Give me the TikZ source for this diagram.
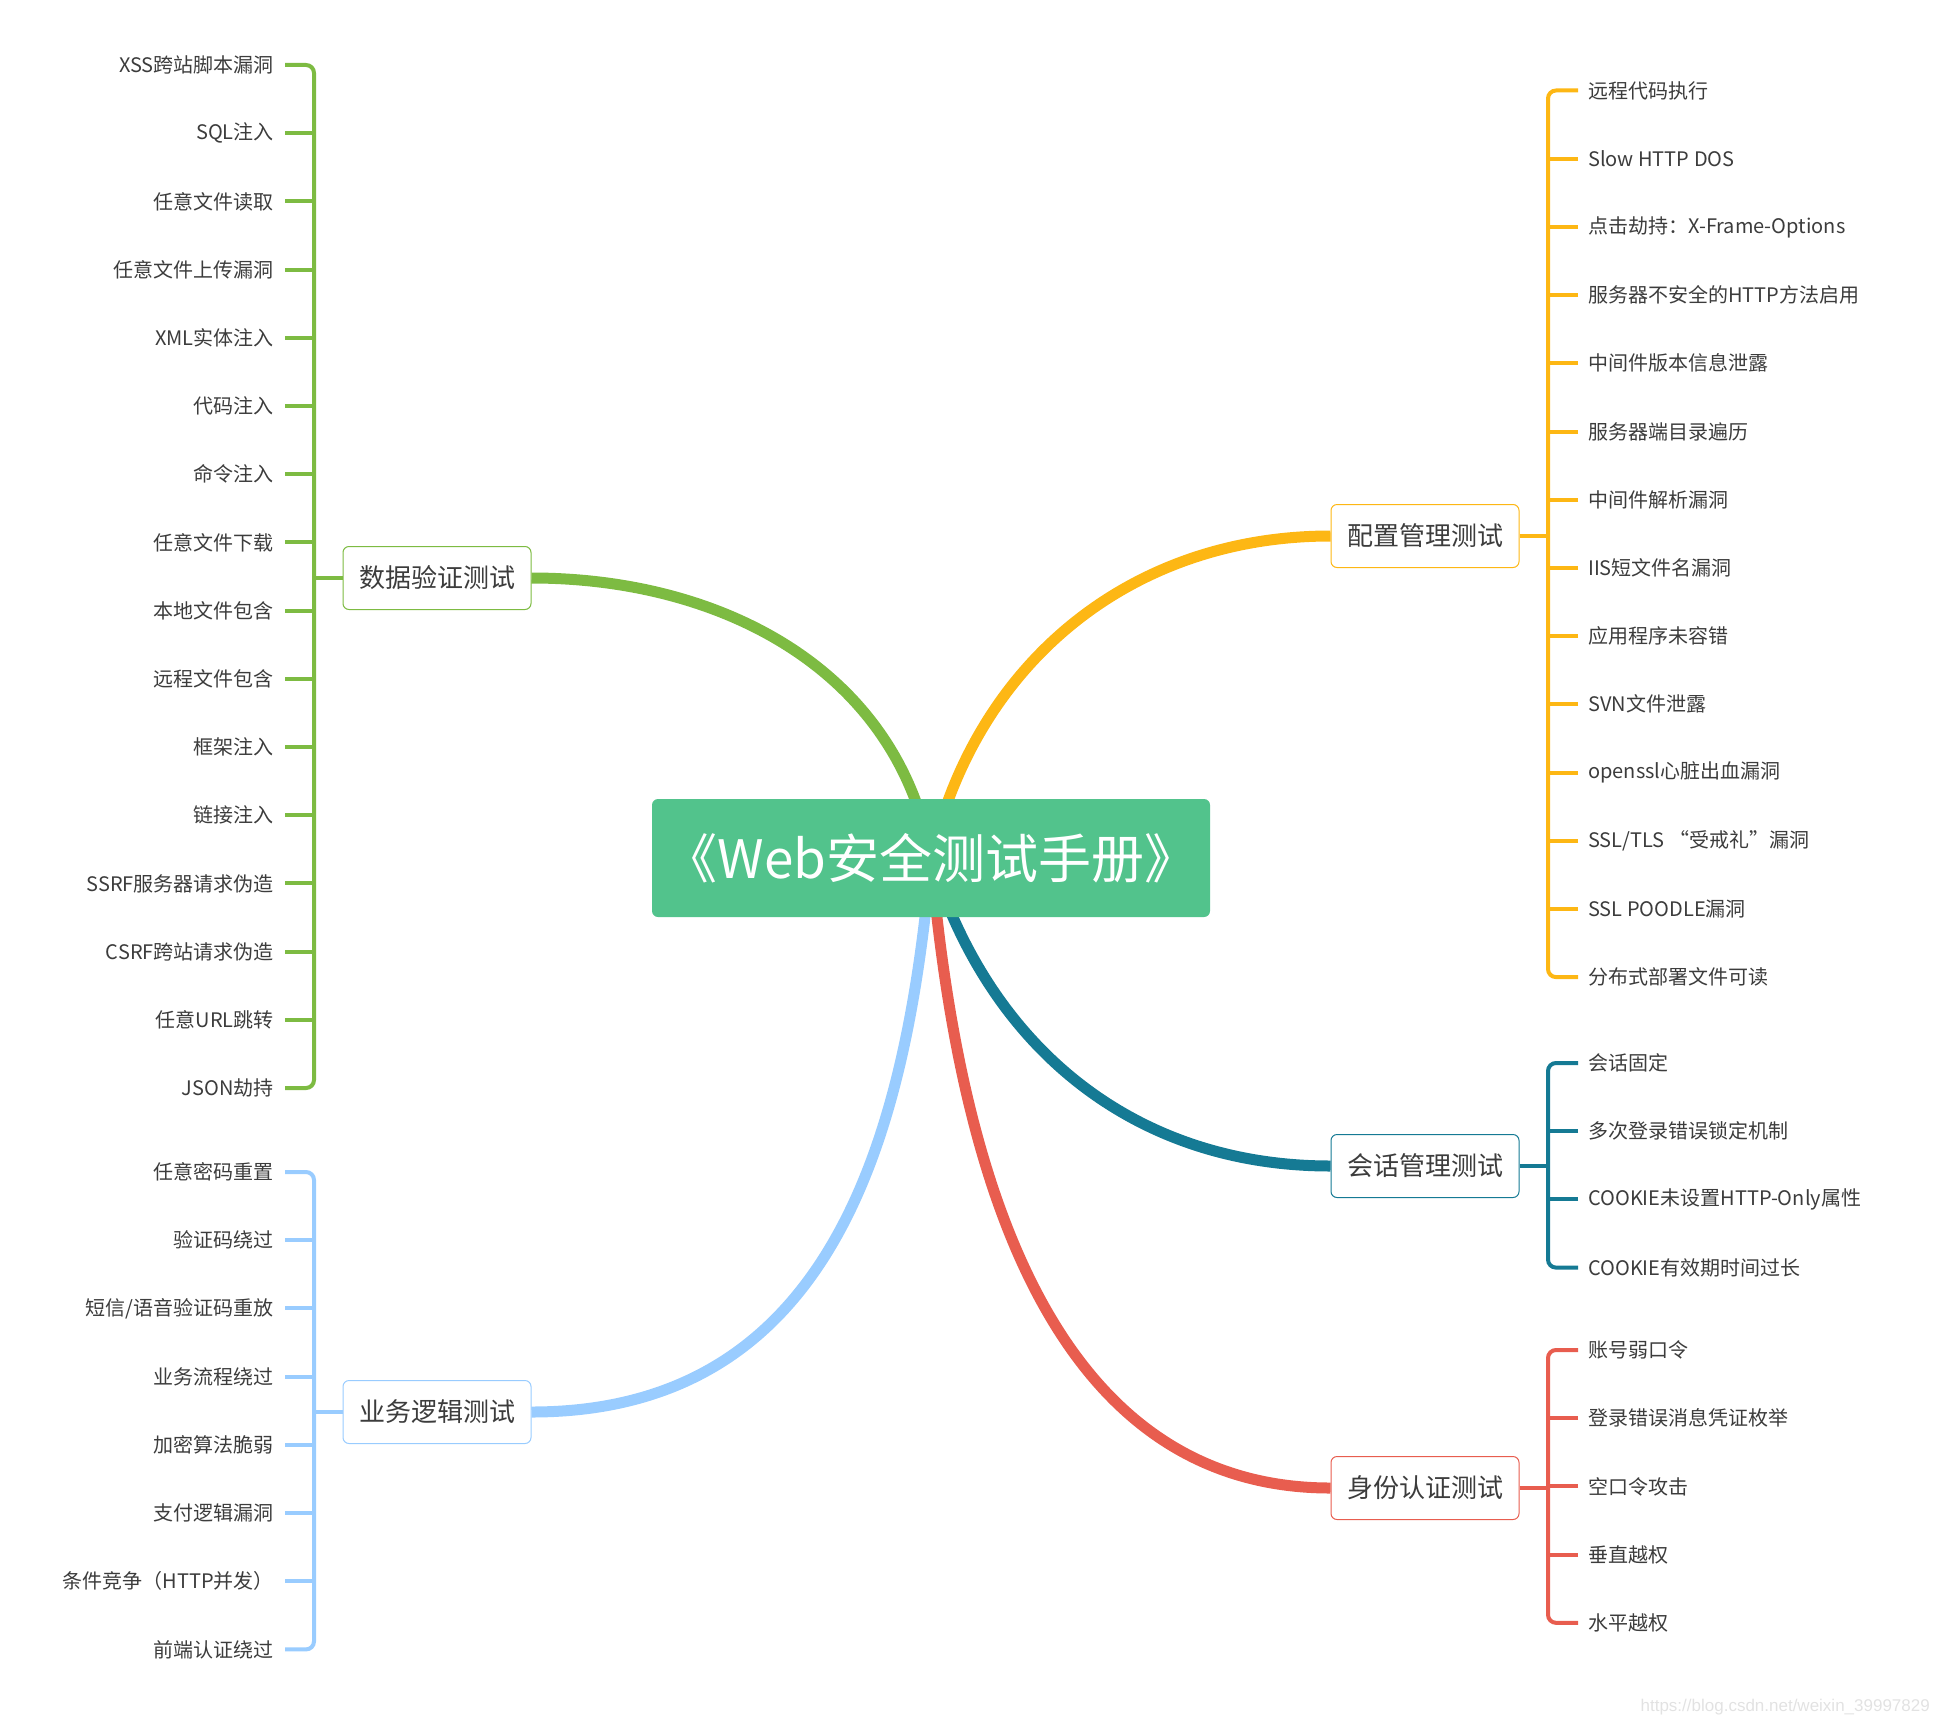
\documentclass[tikz,border=0pt]{standalone}
\usepackage{fontspec}
\setmainfont{Noto Sans CJK SC}
\newfontfamily\markfont{Liberation Sans}
\definecolor{txt}{HTML}{3C3C3C}
\definecolor{titleclr}{HTML}{52C38C}
\definecolor{dataclr}{HTML}{7DBB42}
\definecolor{logicclr}{HTML}{99CCFF}
\definecolor{confclr}{HTML}{FDB714}
\definecolor{sessclr}{HTML}{157A94}
\definecolor{authclr}{HTML}{E85D4F}
\definecolor{wmclr}{HTML}{E2E2E2}
\tikzset{
  topic/.style={draw=#1,fill=white,line width=1pt,rounded corners=6pt,minimum width=188pt,minimum height=63pt,inner sep=0pt,text=txt,font=\fontsize{26}{30}\selectfont},
  leaf/.style={inner xsep=11pt,inner ysep=0pt,text=txt,font=\fontsize{20}{24}\selectfont},
  branch/.style={line width=11pt,draw=#1},
  twig/.style={line width=4pt,draw=#1,rounded corners=8pt}
}
\def\gap{68.2}
\def\lx{285}
\def\rx{1578}

\begin{document}
\begin{tikzpicture}[x=1pt,y=1pt]
  \useasboundingbox (0,0) rectangle (1935,-1718);
  \coordinate (root) at (931,-858);

  % Topics
  \node[topic=dataclr] (data) at (437,-578) {数据验证测试};
  \node[topic=logicclr] (logic) at (437,-1412) {业务逻辑测试};
  \node[topic=confclr] (conf) at (1425,-536) {配置管理测试};
  \node[topic=sessclr] (sess) at (1425,-1166) {会话管理测试};
  \node[topic=authclr] (auth) at (1425,-1488) {身份认证测试};

  % Branches
  \draw[branch=dataclr] (root) to[out=100,in=0] (data.east);
  \draw[branch=logicclr] (root) to[out=-95,in=0,looseness=1.1] (logic.east);
  \draw[branch=confclr] (root) to[out=77,in=180] (conf.west);
  \draw[branch=sessclr] (root) to[out=-73,in=180] (sess.west);
  \draw[branch=authclr] (root) to[out=-85,in=180] (auth.west);

  % Root
  \node[fill=titleclr,rounded corners=6pt,minimum width=558pt,minimum height=118pt,text=white,font=\fontsize{53}{60}\selectfont] (title) at (root) {《Web安全测试手册》};

  % Data validation
  \foreach \t [count=\i] in {XSS跨站脚本漏洞,SQL注入,任意文件读取,任意文件上传漏洞,XML实体注入,代码注入,命令注入,任意文件下载,本地文件包含,远程文件包含,框架注入,链接注入,SSRF服务器请求伪造,CSRF跨站请求伪造,任意URL跳转,JSON劫持}
    \node[leaf,anchor=east] (d\i) at (\lx,{-65-(\i-1)*\gap}) {\t};
  \coordinate (dataBar) at (314,-578);
  \draw[twig=dataclr] (d1.east) -| (dataBar |- d16.east) -- (d16.east);
  \foreach \i in {2,...,15} \draw[twig=dataclr] (d\i.east) -- (dataBar |- d\i.east);
  \draw[twig=dataclr] (dataBar) -- (data.west);

  % Business logic
  \foreach \t [count=\i] in {任意密码重置,验证码绕过,短信/语音验证码重放,业务流程绕过,加密算法脆弱,支付逻辑漏洞,条件竞争（HTTP并发）,前端认证绕过}
    \node[leaf,anchor=east] (l\i) at (\lx,{-1172-(\i-1)*\gap}) {\t};
  \coordinate (logicBar) at (314,-1412);
  \draw[twig=logicclr] (l1.east) -| (logicBar |- l8.east) -- (l8.east);
  \foreach \i in {2,...,7} \draw[twig=logicclr] (l\i.east) -- (logicBar |- l\i.east);
  \draw[twig=logicclr] (logicBar) -- (logic.west);

  % Configuration
  \foreach \t [count=\i] in {远程代码执行,Slow HTTP DOS,点击劫持：X-Frame-Options,服务器不安全的HTTP方法启用,中间件版本信息泄露,服务器端目录遍历,中间件解析漏洞,IIS短文件名漏洞,应用程序未容错,SVN文件泄露,openssl心脏出血漏洞,SSL/TLS “受戒礼”漏洞,SSL POODLE漏洞,分布式部署文件可读}
    \node[leaf,anchor=west,inner xsep=10pt] (c\i) at (\rx,{-90.5-(\i-1)*\gap}) {\t};
  \coordinate (confBar) at (1548,-536);
  \draw[twig=confclr] (c1.west) -| (confBar |- c14.west) -- (c14.west);
  \foreach \i in {2,...,13} \draw[twig=confclr] (c\i.west) -- (confBar |- c\i.west);
  \draw[twig=confclr] (conf.east) -- (confBar);

  % Session
  \foreach \t [count=\i] in {会话固定,多次登录错误锁定机制,COOKIE未设置HTTP-Only属性,COOKIE有效期时间过长}
    \node[leaf,anchor=west,inner xsep=10pt] (s\i) at (\rx,{-1063-(\i-1)*\gap}) {\t};
  \coordinate (sessBar) at (1548,-1166);
  \draw[twig=sessclr] (s1.west) -| (sessBar |- s4.west) -- (s4.west);
  \foreach \i in {2,3} \draw[twig=sessclr] (s\i.west) -- (sessBar |- s\i.west);
  \draw[twig=sessclr] (sess.east) -- (sessBar);

  % Authentication
  \foreach \t [count=\i] in {账号弱口令,登录错误消息凭证枚举,空口令攻击,垂直越权,水平越权}
    \node[leaf,anchor=west,inner xsep=10pt] (a\i) at (\rx,{-1350-(\i-1)*\gap}) {\t};
  \coordinate (authBar) at (1548,-1488);
  \draw[twig=authclr] (a1.west) -| (authBar |- a5.west) -- (a5.west);
  \foreach \i in {2,...,4} \draw[twig=authclr] (a\i.west) -- (authBar |- a\i.west);
  \draw[twig=authclr] (auth.east) -- (authBar);

  % Watermark
  \node[anchor=east,inner sep=0pt,text=wmclr,font=\markfont\fontsize{17}{20}\selectfont] (mark) at (1930,-1707) {https://blog.csdn.net/weixin\_39997829};
\end{tikzpicture}
\end{document}
